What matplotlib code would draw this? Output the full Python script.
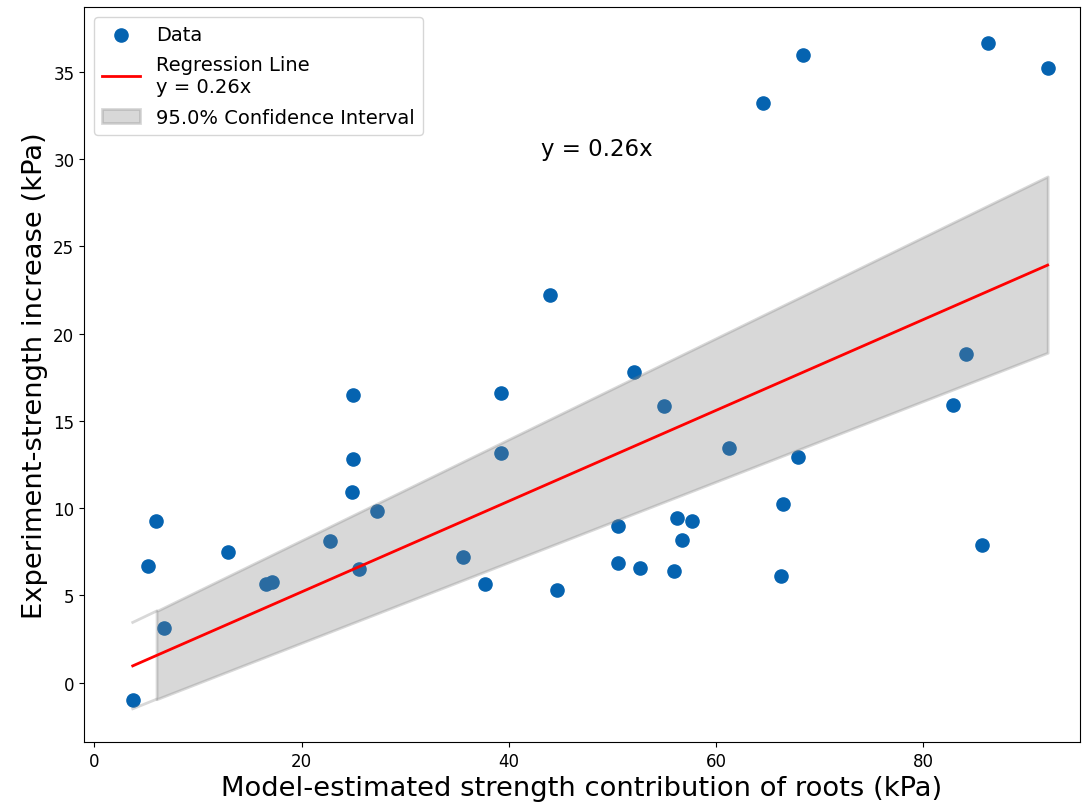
import matplotlib
matplotlib.use("Agg")
import matplotlib.pyplot as plt

# data
x_model = [3.7, 5.2, 5.9, 6.7, 12.9, 16.6, 17.1, 22.7, 25.0, 25.0, 24.9, 25.5, 27.3,
           35.6, 37.7, 39.2, 39.2, 44.0, 44.6, 50.5, 50.5, 52.1, 52.7, 55.0, 55.9,
           56.2, 56.7, 57.7, 61.2, 64.5, 66.3, 66.5, 67.9, 68.4, 82.9, 84.1, 85.7,
           86.2, 92.0]
y_exp = [-0.97, 6.7, 9.28, 3.15, 7.5, 5.67, 5.78, 8.13, 16.5, 12.83, 10.94, 6.53, 9.85,
         7.22, 5.67, 16.6, 13.17, 22.2, 5.33, 9.0, 6.87, 17.8, 6.59, 15.86, 6.41,
         9.45, 8.19, 9.28, 13.46, 33.2, 6.13, 10.25, 12.94, 35.97, 15.9, 18.8, 7.9,
         36.65, 35.2]

line_x = [3.7, 92.0]
line_y = [0.96, 23.92]

band_x = [3.7, 6.0, 92.0]
band_upper = [3.45, 4.1, 29.0]
band_lower = [-1.5, -0.95, 18.9]

fontsize = 12
legend_size = 14
label_size = 19.7

fig = plt.figure(figsize=(10.83, 8.12), dpi=100)
ax = fig.add_axes([0.0776, 0.085, 0.9194, 0.905])

ax.scatter(x_model, y_exp, s=90, color='#0563b0', label='Data', zorder=2)
ax.plot(line_x, line_y, color='red', linewidth=2, label='Regression Line\ny = 0.26x', zorder=4)
ax.fill_between(band_x[1:], band_lower[1:], band_upper[1:], color='gray', alpha=0.3,
                linewidth=2, label='95.0% Confidence Interval', zorder=3)
ax.plot(band_x[:2], band_upper[:2], color='gray', alpha=0.3, linewidth=2, zorder=3)
ax.plot(band_x[:2], band_lower[:2], color='gray', alpha=0.3, linewidth=2, zorder=3)

ax.text(48.5, 30.6, 'y = 0.26x', fontsize=16.5, ha='center', va='center')

ax.set_xlim(-1.0, 95.1)
ax.set_ylim(-3.4, 38.7)
ax.set_xticks([0, 20, 40, 60, 80])
ax.set_yticks([0, 5, 10, 15, 20, 25, 30, 35])
ax.tick_params(labelsize=fontsize)

ax.set_xlabel('Model-estimated strength contribution of roots (kPa)', fontsize=label_size)
ax.set_ylabel('Experiment-strength increase (kPa)', fontsize=label_size)
ax.legend(loc='upper left', fontsize=legend_size, labelspacing=0.6)

plt.savefig('out.png', dpi=100)
